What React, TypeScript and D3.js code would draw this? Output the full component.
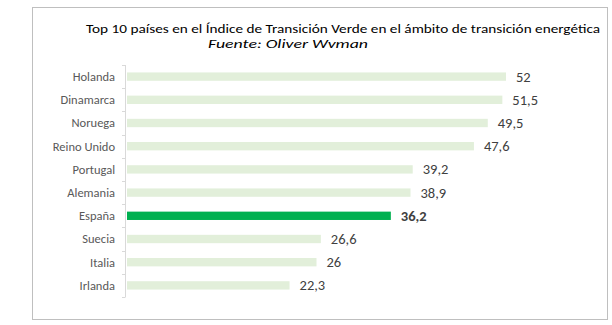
import React from "react";
import * as d3 from "d3";

const categories = ["Holanda", "Dinamarca", "Noruega", "Reino Unido", "Portugal", "Alemania", "España", "Suecia", "Italia", "Irlanda"];
const values = [52, 51.5, 49.5, 47.6, 39.2, 38.9, 36.2, 26.6, 26, 22.3];
const valueLabels = ["52", "51,5", "49,5", "47,6", "39,2", "38,9", "36,2", "26,6", "26", "22,3"];
const highlight = "España";
const title = "Top 10 países en el Índice de Transición Verde en el ámbito de transición energética";
const subtitle = "Fuente: Oliver Wvman";

export default function App() {
  const W = 612, H = 325;
  const x0 = 127;
  const x = d3.scaleLinear().domain([0, 52]).range([x0, 506]);
  const y = d3.scaleBand().domain(categories).range([65, 297]).paddingInner(0.64).paddingOuter(0.32);
  const font = "Carlito, Lato, 'Open Sans', sans-serif";
  const ticks = d3.range(categories.length + 1).map(i => 65 + i * (232 / categories.length));
  return (
    <svg width={W} height={H} style={{ position: "absolute", left: 0, top: 0 }} fontFamily={font}>
      <rect x={0} y={0} width={W} height={H} fill="#fff" />
      <rect x={32.5} y={7.5} width={575} height={312} fill="#fff" stroke="#bfbfbf" strokeWidth={1} />
      <text x={343} y={33} textAnchor="middle" fontSize={13} fill="#000" textLength={514} lengthAdjust="spacingAndGlyphs">{title}</text>
      <text x={288} y={48} textAnchor="middle" fontSize={13} fontStyle="italic" fill="#000" textLength={160} lengthAdjust="spacingAndGlyphs">{subtitle}</text>
      <line x1={125.5} x2={125.5} y1={65} y2={297} stroke="#d9d9d9" />
      {ticks.map((t, i) => (
        <line key={i} x1={122} x2={125.5} y1={Math.round(t) + 0.5} y2={Math.round(t) + 0.5} stroke="#d9d9d9" />
      ))}
      {categories.map((c, i) => {
        const isH = c === highlight;
        const by = y(c)!;
        const cy = by + y.bandwidth() / 2;
        return (
          <g key={c}>
            <rect x={x(0)} y={by} width={x(values[i]) - x(0)} height={y.bandwidth()} fill={isH ? "#00b050" : "#e2efda"} />
            <text x={115} y={cy} dy="0.35em" textAnchor="end" fontSize={12.5} fill="#595959">{c}</text>
            <text x={x(values[i]) + 10} y={cy} dy="0.35em" fontSize={14.5} fill="#404040" fontWeight={isH ? "bold" : "normal"}>{valueLabels[i]}</text>
          </g>
        );
      })}
    </svg>
  );
}
